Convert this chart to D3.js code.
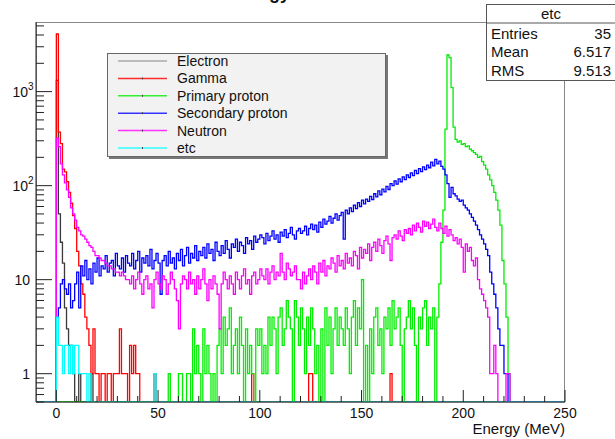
<!DOCTYPE html>
<html>
<head>
<meta charset="utf-8">
<script src="https://cdn.jsdelivr.net/npm/d3@7"></script>
<style>
  body { margin: 0; background: #fff; }
  text { font-family: "Liberation Sans", Arial, Helvetica, sans-serif; fill: #111; }
</style>
</head>
<body>
<script>
// 1 MeV bins, axis range -10..250 MeV
const seriesNames = ["Electron", "Gamma", "Primary proton", "Secondary proton", "Neutron", "etc"];

// sparse histograms: [bin lower edge (MeV), count]
const electronBins = [[0,1320],[1,50],[2,25],[3,15],[4,5],[5,3],[6,2],[7,2],[8,1],[11,1],[17,1]];
const gammaBins = [[0,4100],[1,370],[2,280],[3,150],[4,140],[5,110],[6,85],[7,65],[8,48],[9,35],
  [10,20],[11,14],[12,9],[13,7],[14,4],[15,3],[16,2],[17,1],[18,3],[19,1],[20,1],[22,1],[23,1],
  [25,1],[26,1],[28,1],[29,1],[30,1],[31,3],[32,1],[33,1],[34,1],[36,2],[37,1],[38,2],[39,1],
  [40,1],[48,1],[96,1],[124,1],[125,1],[164,1]];
const etcBins = [[0,4],[1,2],[2,2],[3,1],[4,2],[5,2],[6,1],[7,2],[8,1],[9,2],[10,2],[11,1],
  [12,1],[13,1],[14,1],[16,1],[48,1]];

// dense histograms, first value is the bin starting at the given energy
const primaryStart = 55;
const primaryCounts = [
  1,0,0,0,0,1,1,0,0,1,1,0,3,1,2,1,0,3,1,2,1,0,1,0,2,3,1,4,2,3,5,1,2,3,1,4,2,0,3,1,
  2,1,0,3,2,3,1,2,1,4,2,4,3,1,4,5,2,3,6,4,3,0,6,4,
  2,5,3,1,4,2,5,3,1,2,0,3,0,5,2,4,1,3,5,2,4,3,
  2,5,3,1,4,6,2,5,3,10,0,2,0,3,1,4,5,2,3,1,
  4,3,5,2,6,3,4,5,2,0,3,4,6,3,5,2,0,4,3,5,6,2,4,3,5,
  0,4,9,25,55,400,2450,2300,1100,420,310,290,300,275,280,260,265,245,235,225,
  215,200,205,180,165,150,130,115,100,85,70,55,38,16,9,4,1,0];

const secondaryStart = 0;
const secondaryCounts = [
  4,5,9,10,8,7,9,5,6,9,12,5,14,11,16,
  10,13,9,15,12,17,11,14,13,18,12,15,16,11,19,14,
  13,17,12,18,15,14,19,13,16,20,12,17,15,18,14,21,13,16,19,15,
  7,16,18,14,20,15,17,13,19,16,21,14,18,22,15,19,17,23,16,20,
  18,22,17,24,19,21,16,25,20,18,23,19,26,21,17,24,22,27,20,25,23,19,28,24,26,21,29,25,27,30,
  28,24,31,26,29,33,27,30,25,32,29,34,28,31,36,30,27,33,35,31,
  33,37,30,35,39,34,38,32,41,36,44,39,42,47,40,45,50,43,48,52,
  27,55,50,58,53,62,57,66,60,70,64,72,68,77,71,82,76,88,80,92,
  86,98,91,105,100,112,104,118,110,124,116,130,122,137,128,145,134,152,141,158,
  148,165,155,178,162,190,170,182,160,150,130,105,75,96,82,
  78,72,68,70,62,58,55,50,46,42,38,34,30,27,24,21,18,12,9,7,5,3,2,2,1,1,0];

const neutronStart = 0;
const neutronCounts = [
  320,260,170,130,107,90,75,58,50,43,36,33,30,29,27,25,23,22,20,18,18,17,16,16,15,14,14,13,13,12,12,11,12,11,10,10,
  9,11,8,10,12,9,7,10,11,8,9,5,10,12,9,
  8,11,10,7,9,12,10,8,6,3,9,11,10,8,12,
  9,10,7,11,8,10,13,9,6,10,8,11,9,7,3,
  9,12,10,8,11,9,7,12,10,8,11,13,9,10,7,11,12,9,10,13,
  11,10,13,9,12,14,10,12,11,19,12,10,15,13,11,12,14,10,
  10,8,12,9,11,13,10,14,12,9,15,12,16,11,14,13,17,
  15,12,18,14,16,13,19,15,17,14,20,18,13,22,17,
  21,19,24,16,22,25,20,27,23,19,26,29,24,16,28,
  30,27,33,29,26,34,31,35,30,38,33,40,36,32,42,
  37,41,35,39,44,36,33,40,35,31,37,29,34,30,26,
  28,24,27,22,12,24,20,22,16,14,17,10,8,7,6,
  5,4,1,1,2,1,0,0,0,0,1,1,0];

const xTickLabels = [0, 50, 100, 150, 200, 250];
const statsRows = [["Entries", "35"], ["Mean", "6.517"], ["RMS", "9.513"]];

const colors = ["#3a3a3a", "#ff0000", "#00ee00", "#0000ff", "#ff00ff", "#00ffff"];
const legendColors = ["#aaaaaa", "#ff2a2a", "#33ee33", "#3333ff", "#ff33ff", "#33ffff"];

const svg = d3.select("body").append("svg")
  .attr("width", 615).attr("height", 439);

const x = d3.scaleLinear().domain([-10, 250]).range([36, 565]);
const y = d3.scaleLog().domain([0.5, 5500]).range([402, 22]);

// build full bin arrays over the axis range
const lo = -10, hi = 250;
function fromSparse(list) {
  const arr = new Array(hi - lo).fill(0);
  list.forEach(([e, c]) => { arr[e - lo] = c; });
  return arr;
}
function fromDense(start, counts) {
  const arr = new Array(hi - lo).fill(0);
  counts.forEach((c, i) => { arr[start + i - lo] = c; });
  return arr;
}
const hists = [
  fromSparse(electronBins),
  fromSparse(gammaBins),
  fromDense(primaryStart, primaryCounts),
  fromDense(secondaryStart, secondaryCounts),
  fromDense(neutronStart, neutronCounts),
  fromSparse(etcBins)
];

// title (cut off at the top of the canvas, as in the original)
svg.append("text").attr("x", 290).attr("y", -1)
  .attr("text-anchor", "end").attr("font-size", 18).attr("font-weight", "bold")
  .text("Energy");

svg.append("clipPath").attr("id", "frame")
  .append("rect").attr("x", 36).attr("y", 22).attr("width", 529).attr("height", 380);

// frame
svg.append("rect").attr("x", 36.5).attr("y", 22.5).attr("width", 528).attr("height", 379.5)
  .attr("fill", "none").attr("stroke", "#888").attr("stroke-width", 1);

// histograms
const step = d3.line().curve(d3.curveStepAfter);
const plot = svg.append("g").attr("clip-path", "url(#frame)");
hists.forEach((h, k) => {
  const pts = h.map((c, i) => [x(lo + i), y(Math.max(c, 0.5))]);
  pts.push([x(hi), pts[pts.length - 1][1]]);
  plot.append("path")
    .attr("d", step(pts))
    .attr("fill", "none")
    .attr("stroke", colors[k])
    .attr("stroke-width", 1.3);
});

// axes lines
svg.append("line").attr("x1", 36).attr("x2", 565).attr("y1", 402).attr("y2", 402)
  .attr("stroke", "#222");
svg.append("line").attr("x1", 36).attr("x2", 36).attr("y1", 22).attr("y2", 402)
  .attr("stroke", "#222");

// x ticks
d3.range(0, 251, 10).forEach(v => {
  const major = v % 50 === 0;
  svg.append("line").attr("x1", x(v)).attr("x2", x(v))
    .attr("y1", 402).attr("y2", major ? 390 : 396)
    .attr("stroke", "#222");
});
xTickLabels.forEach(v => {
  svg.append("text").attr("x", x(v)).attr("y", 418)
    .attr("text-anchor", "middle").attr("font-size", 14).text(v);
});
svg.append("text").attr("x", 565).attr("y", 434)
  .attr("text-anchor", "end").attr("font-size", 15).text("Energy (MeV)");

// y ticks (log)
y.ticks().forEach(v => {
  const lg = Math.log10(v);
  const major = Math.abs(lg - Math.round(lg)) < 1e-9;
  svg.append("line").attr("x1", 36).attr("x2", major ? 52 : 44)
    .attr("y1", y(v)).attr("y2", y(v)).attr("stroke", "#222");
  if (major) {
    const t = svg.append("text").attr("x", major && lg >= 2 ? 28 : 30)
      .attr("y", y(v) + 5).attr("text-anchor", "end").attr("font-size", 14);
    if (lg === 0) t.text("1");
    else if (lg === 1) t.text("10");
    else {
      t.text("10");
      svg.append("text").attr("x", 28).attr("y", y(v) - 2)
        .attr("font-size", 10).text(lg);
    }
  }
});

// legend
const lg = svg.append("g");
lg.append("rect").attr("x", 109).attr("y", 55).attr("width", 279).attr("height", 104)
  .attr("fill", "#777");
lg.append("rect").attr("x", 107.5).attr("y", 53.5).attr("width", 278).attr("height", 103)
  .attr("fill", "#f2f2f2").attr("stroke", "#666");
seriesNames.forEach((name, k) => {
  const yy = 61 + k * 17.4;
  lg.append("line").attr("x1", 118).attr("x2", 167).attr("y1", yy).attr("y2", yy)
    .attr("stroke", legendColors[k]).attr("stroke-width", 1.5);
  if (k > 0) {
    lg.append("line").attr("x1", 142.5).attr("x2", 142.5).attr("y1", yy - 1).attr("y2", yy + 1)
      .attr("stroke", "#444");
  }
  lg.append("text").attr("x", 177).attr("y", yy + 5).attr("font-size", 14).text(name);
});

// stats box
const sb = svg.append("g");
sb.append("rect").attr("x", 486.5).attr("y", 4.5).attr("width", 140).attr("height", 76)
  .attr("fill", "#fff").attr("stroke", "#555");
sb.append("line").attr("x1", 486).attr("x2", 615).attr("y1", 23).attr("y2", 23)
  .attr("stroke", "#555");
sb.append("text").attr("x", 551).attr("y", 19).attr("text-anchor", "middle")
  .attr("font-size", 15).text(seriesNames[5]);
statsRows.forEach((r, i) => {
  const yy = 39 + i * 18.3;
  sb.append("text").attr("x", 491).attr("y", yy).attr("font-size", 15).text(r[0]);
  sb.append("text").attr("x", 611).attr("y", yy).attr("text-anchor", "end")
    .attr("font-size", 15).text(r[1]);
});
</script>
</body>
</html>
